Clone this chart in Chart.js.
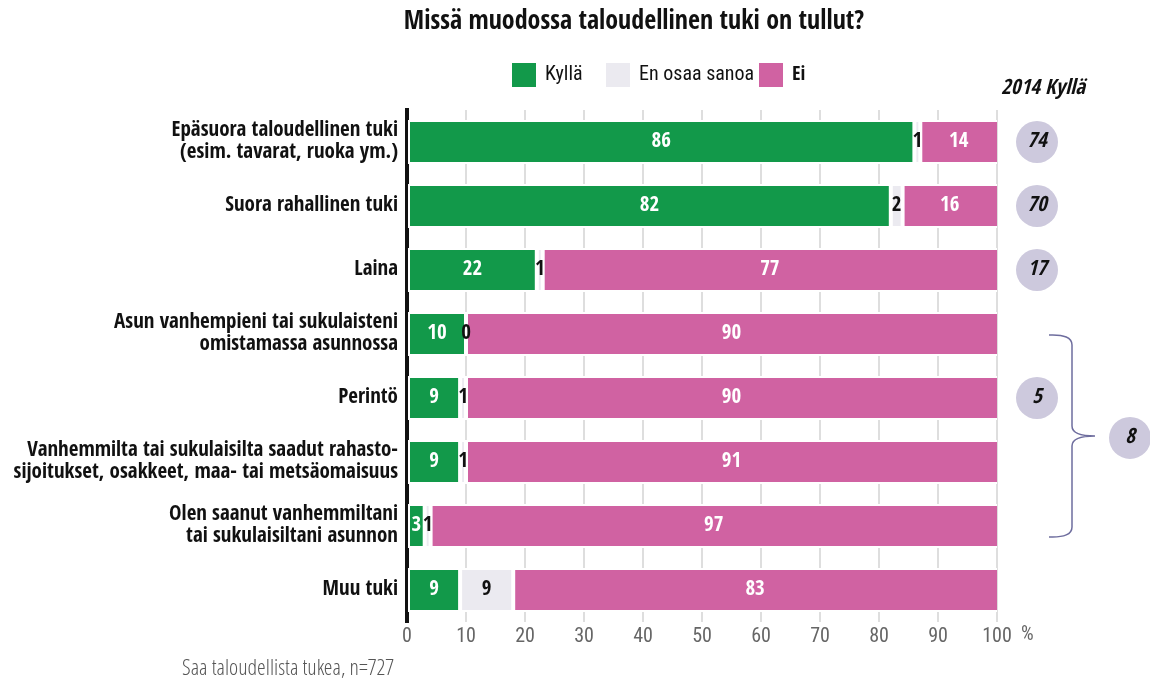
<!DOCTYPE html>
<html><head><meta charset="utf-8">
<script src="https://cdn.jsdelivr.net/npm/chart.js@4/dist/chart.umd.min.js"></script>
<style>html,body{margin:0;padding:0;background:#fff;}#wrap{width:1150px;height:684px;position:relative;}</style>
</head><body><div id="wrap"><canvas id="c" width="1150" height="684"></canvas></div>
<script>
const categories = [
  ['Epäsuora taloudellinen tuki', '(esim. tavarat, ruoka ym.)'],
  'Suora rahallinen tuki',
  'Laina',
  ['Asun vanhempieni tai sukulaisteni', 'omistamassa asunnossa'],
  'Perintö',
  ['Vanhemmilta tai sukulaisilta saadut rahasto-', 'sijoitukset, osakkeet, maa- tai metsäomaisuus'],
  ['Olen saanut vanhemmiltani', 'tai sukulaisiltani asunnon'],
  'Muu tuki'
];
const seriesNames = ['Kyllä', 'En osaa sanoa', 'Ei'];
const kylla = [86, 82, 22, 10, 9, 9, 3, 9];
const enOsaa = [1, 2, 1, 0, 1, 1, 1, 9];
const ei = [14, 16, 77, 90, 90, 91, 97, 83];
const kylla2014 = [74, 70, 17, null, 5, null, null, null];
const group2014Value = 8;
const group2014From = 3;
const group2014To = 6;
const xMin = 0, xMax = 100, xStep = 10;

const FONT = "'Open Sans Condensed','Roboto Condensed',sans-serif";
const FONT_R = "'Roboto Condensed','Open Sans Condensed',sans-serif";
const FONT_L = "'Open Sans Condensed Light','Roboto Condensed Light','Roboto Condensed',sans-serif";
const COLORS = ['#12994a', '#ebeaf0', '#d062a2'];
const LABEL_COLORS = ['#ffffff', '#111111', '#ffffff'];

Chart.defaults.font.family = FONT;

const extras = {
  id: 'extras',
  afterDatasetsDraw(chart) {
    const ctx = chart.ctx;
    const area = chart.chartArea;
    ctx.save();
    ctx.font = 'bold 21px ' + FONT;
    ctx.textAlign = 'center';
    ctx.textBaseline = 'middle';
    chart.data.datasets.forEach((ds, di) => {
      const meta = chart.getDatasetMeta(di);
      meta.data.forEach((el, i) => {
        const p = el.getProps(['x', 'y', 'base'], true);
        const a = Math.max(Math.min(p.base, p.x), area.left);
        const b = Math.min(Math.max(p.base, p.x), area.right);
        ctx.fillStyle = LABEL_COLORS[di];
        ctx.fillText(String(ds.data[i]), (a + b) / 2, p.y);
      });
    });
    ctx.restore();
  },
  afterDraw(chart) {
    const ctx = chart.ctx;
    const ys = chart.scales.y;
    const xs = chart.scales.x;
    ctx.save();
    ctx.fillStyle = '#111';
    ctx.textAlign = 'center';
    ctx.textBaseline = 'middle';
    ctx.font = 'bold 26px ' + FONT;
    ctx.fillText('Missä muodossa taloudellinen tuki on tullut?', 634, 22);
    // legend
    const legX = [512, 606, 759];
    ctx.textAlign = 'left';
    seriesNames.forEach((n, i) => {
      ctx.fillStyle = COLORS[i];
      ctx.fillRect(legX[i], 63, 24, 24);
      ctx.fillStyle = '#111';
      ctx.font = i === 2 ? 'bold 20px ' + FONT : '20px ' + FONT_R;
      ctx.fillText(n, legX[i] + 33, 75);
    });
    ctx.textAlign = 'center';
    ctx.font = 'italic bold 21px ' + FONT;
    ctx.fillText('2014 Kyllä', 1043, 89);
    const cx = 1037, r = 21;
    const circle = (x, y, v) => {
      ctx.beginPath();
      ctx.arc(x, y, r, 0, Math.PI * 2);
      ctx.fillStyle = '#cdc9dd';
      ctx.fill();
      ctx.fillStyle = '#111';
      ctx.font = 'italic bold 21px ' + FONT;
      ctx.fillText(String(v), x, y);
    };
    kylla2014.forEach((v, i) => {
      if (v === null) return;
      circle(cx, ys.getPixelForValue(i), v);
    });
    const step = ys.getPixelForValue(1) - ys.getPixelForValue(0);
    const top = ys.getPixelForValue(group2014From) + 1;
    const bot = ys.getPixelForValue(group2014To) + step * 0.17;
    const mid = (top + bot) / 2;
    const bx0 = 1049, bx1 = 1072, bx2 = 1095;
    ctx.strokeStyle = '#6e6d9e';
    ctx.lineWidth = 1.5;
    ctx.beginPath();
    ctx.moveTo(bx0, top);
    ctx.quadraticCurveTo(bx1, top - 1, bx1, top + 10);
    ctx.lineTo(bx1, mid - 10);
    ctx.quadraticCurveTo(bx1, mid, bx2, mid);
    ctx.quadraticCurveTo(bx1, mid, bx1, mid + 10);
    ctx.lineTo(bx1, bot - 10);
    ctx.quadraticCurveTo(bx1, bot + 1, bx0, bot);
    ctx.stroke();
    circle(1130, mid + 2, group2014Value);
    ctx.fillStyle = '#666';
    ctx.font = '20px ' + FONT_R;
    ctx.textAlign = 'left';
    ctx.fillText('%', xs.getPixelForValue(xMax) + 24, 635);
    ctx.fillStyle = '#555';
    ctx.font = '300 22px ' + FONT_L;
    ctx.fillText('Saa taloudellista tukea, n=727', 182, 669);
    ctx.restore();
  }
};

const dsBase = { borderColor: '#ffffff', borderSkipped: false, clip: 0, barPercentage: 0.69, categoryPercentage: 1 };

new Chart(document.getElementById('c'), {
  type: 'bar',
  data: {
    labels: categories,
    datasets: [
      Object.assign({ label: seriesNames[0], data: kylla, backgroundColor: COLORS[0], borderWidth: 2 }, dsBase),
      Object.assign({ label: seriesNames[1], data: enOsaa, backgroundColor: COLORS[1], borderWidth: 2 }, dsBase),
      Object.assign({ label: seriesNames[2], data: ei, backgroundColor: COLORS[2], borderWidth: { top: 2, bottom: 2, left: 2, right: 0 } }, dsBase)
    ]
  },
  options: {
    indexAxis: 'y',
    responsive: false,
    animation: false,
    devicePixelRatio: 1,
    layout: { padding: { top: 110, right: 153, left: 0, bottom: 0 } },
    plugins: { legend: { display: false }, title: { display: false }, tooltip: { enabled: false } },
    scales: {
      x: {
        stacked: true,
        min: xMin, max: xMax,
        ticks: { stepSize: xStep, color: '#666', font: { size: 20, family: FONT_R }, padding: 3 },
        grid: { color: '#dedede', lineWidth: 2, drawTicks: false },
        border: { display: false },
        afterFit(s) { s.height = 62; }
      },
      y: {
        stacked: true,
        ticks: { color: '#111', font: { size: 21, weight: 'bold', lineHeight: '22px' }, padding: 9 },
        grid: { display: false, drawTicks: false },
        border: { display: true, color: '#111', width: 4 },
        afterFit(s) { s.width = 407; }
      }
    }
  },
  plugins: [extras]
});
</script></body></html>
